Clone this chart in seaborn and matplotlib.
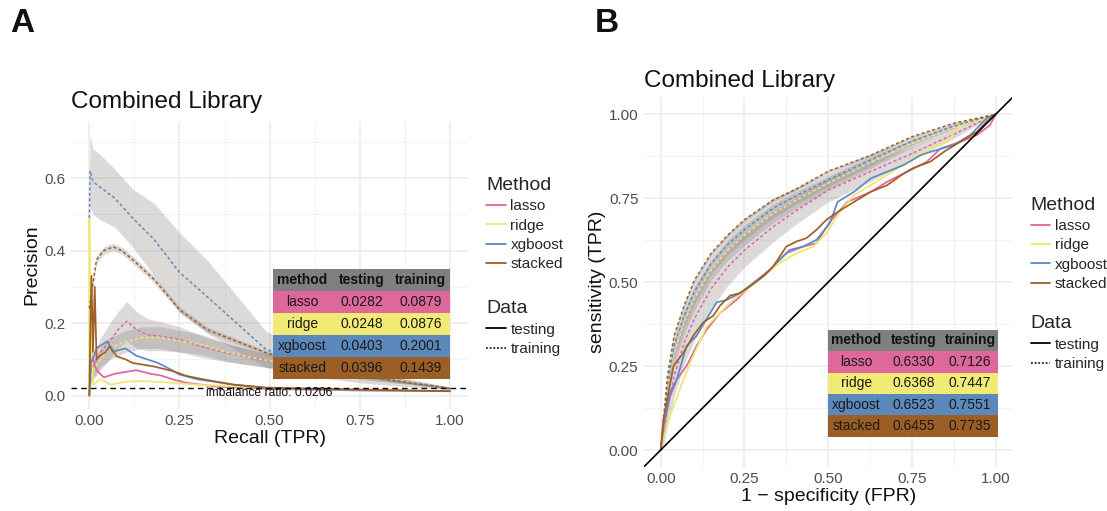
import matplotlib
matplotlib.use("Agg")
import matplotlib.pyplot as plt
from matplotlib.lines import Line2D
import seaborn as sns
import pandas as pd

# ---- data ----
methods = ["lasso", "ridge", "xgboost", "stacked"]
line_colors = ["#E3629E", "#EFE76E", "#5B8BC2", "#9E6028"]
cell_colors = ["#DE679C", "#F1EB76", "#5B89BB", "#9B5F26"]

# precision-recall, training (mean curve + sd band)
pr_train_x = {
    "lasso": [0.0, 0.007, 0.03, 0.057, 0.08, 0.104, 0.13, 0.16, 0.196, 0.25, 0.307, 0.38, 0.473, 0.6, 0.75, 0.9, 1.0],
    "ridge": [0.0, 0.007, 0.03, 0.057, 0.104, 0.15, 0.196, 0.25, 0.307, 0.38, 0.473, 0.6, 0.75, 0.9, 1.0],
    "xgboost": [0.0, 0.002, 0.01, 0.03, 0.07, 0.12, 0.18, 0.25, 0.33, 0.49, 0.6, 0.75, 0.9, 1.0],
    "stacked": [0.0, 0.007, 0.02, 0.04, 0.066, 0.09, 0.12, 0.18, 0.25, 0.326, 0.49, 0.6, 0.75, 0.9, 1.0],
}
pr_train_y = {
    "lasso": [0.05, 0.072, 0.118, 0.15, 0.182, 0.205, 0.182, 0.168, 0.164, 0.155, 0.136, 0.118, 0.10, 0.08, 0.055, 0.035, 0.02],
    "ridge": [0.04, 0.063, 0.10, 0.13, 0.15, 0.16, 0.16, 0.15, 0.142, 0.12, 0.10, 0.083, 0.057, 0.035, 0.02],
    "xgboost": [0.49, 0.62, 0.59, 0.575, 0.545, 0.49, 0.43, 0.34, 0.27, 0.127, 0.09, 0.055, 0.033, 0.02],
    "stacked": [0.24, 0.29, 0.375, 0.40, 0.41, 0.40, 0.375, 0.32, 0.237, 0.182, 0.118, 0.09, 0.055, 0.033, 0.02],
}
pr_train_sd = {
    "lasso": [0.02, 0.03, 0.04, 0.05, 0.05, 0.055, 0.05, 0.045, 0.04, 0.035, 0.03, 0.025, 0.02, 0.015, 0.01, 0.005, 0.003],
    "ridge": [0.02, 0.025, 0.03, 0.03, 0.03, 0.03, 0.03, 0.03, 0.028, 0.025, 0.02, 0.015, 0.01, 0.005, 0.003],
    "xgboost": [0.1, 0.1, 0.09, 0.09, 0.08, 0.08, 0.1, 0.11, 0.1, 0.05, 0.035, 0.02, 0.01, 0.003],
    "stacked": [0.01, 0.01, 0.01, 0.01, 0.01, 0.01, 0.01, 0.01, 0.008, 0.008, 0.006, 0.005, 0.004, 0.003, 0.002],
}
# precision-recall, testing
pr_test_x = {
    "lasso": [0, 0.005, 0.02, 0.04, 0.07, 0.1, 0.13, 0.17, 0.2, 0.23, 0.27, 0.35, 0.5, 0.75, 1.0],
    "ridge": [0, 0.0, 0.004, 0.01, 0.03, 0.06, 0.1, 0.15, 0.2, 0.3, 0.4, 0.5, 0.75, 1.0],
    "xgboost": [0, 0.005, 0.02, 0.035, 0.05, 0.065, 0.08, 0.1, 0.13, 0.16, 0.19, 0.22, 0.25, 0.3, 0.4, 0.5, 0.75, 1.0],
    "stacked": [0, 0.003, 0.006, 0.01, 0.015, 0.02, 0.03, 0.045, 0.057, 0.076, 0.1, 0.12, 0.18, 0.233, 0.27, 0.32, 0.4, 0.49, 0.67, 1.0],
}
pr_test_y = {
    "lasso": [0, 0.12, 0.07, 0.05, 0.06, 0.065, 0.07, 0.06, 0.055, 0.045, 0.035, 0.025, 0.018, 0.014, 0.012],
    "ridge": [0, 0.49, 0.2, 0.03, 0.045, 0.03, 0.038, 0.04, 0.037, 0.03, 0.025, 0.02, 0.015, 0.012],
    "xgboost": [0, 0.09, 0.13, 0.14, 0.15, 0.12, 0.125, 0.13, 0.11, 0.1, 0.09, 0.075, 0.058, 0.045, 0.03, 0.02, 0.015, 0.012],
    "stacked": [0, 0.2, 0.33, 0.12, 0.3, 0.1, 0.11, 0.12, 0.136, 0.108, 0.1, 0.09, 0.08, 0.067, 0.054, 0.044, 0.03, 0.022, 0.018, 0.012],
}
imbalance_ratio = 0.0206

# ROC, training (shared FPR grid)
roc_train_fpr = [0, 0.01, 0.02, 0.04, 0.07, 0.1, 0.15, 0.2, 0.25, 0.336, 0.4, 0.5, 0.627, 0.75, 0.874, 1.0]
roc_train_tpr = {
    "lasso": [0, 0.05, 0.12, 0.22, 0.32, 0.39, 0.48, 0.545, 0.595, 0.665, 0.71, 0.774, 0.83, 0.883, 0.94, 1.0],
    "ridge": [0, 0.07, 0.17, 0.29, 0.38, 0.45, 0.535, 0.595, 0.64, 0.705, 0.742, 0.795, 0.857, 0.913, 0.96, 1.0],
    "xgboost": [0, 0.085, 0.19, 0.31, 0.40, 0.47, 0.555, 0.612, 0.656, 0.72, 0.755, 0.805, 0.864, 0.92, 0.965, 1.0],
    "stacked": [0, 0.11, 0.22, 0.34, 0.43, 0.505, 0.585, 0.64, 0.686, 0.745, 0.775, 0.83, 0.878, 0.933, 0.973, 1.0],
}
roc_train_sd = {
    "lasso": [0, 0.03, 0.05, 0.06, 0.065, 0.065, 0.06, 0.055, 0.05, 0.045, 0.04, 0.035, 0.03, 0.02, 0.012, 0],
    "ridge": [0, 0.02, 0.03, 0.035, 0.035, 0.035, 0.03, 0.03, 0.03, 0.028, 0.025, 0.02, 0.018, 0.012, 0.008, 0],
    "xgboost": [0, 0.02, 0.03, 0.035, 0.035, 0.035, 0.03, 0.03, 0.03, 0.028, 0.025, 0.02, 0.018, 0.012, 0.008, 0],
    "stacked": [0, 0.005, 0.005, 0.005, 0.005, 0.005, 0.005, 0.005, 0.005, 0.005, 0.004, 0.004, 0.003, 0.003, 0.002, 0],
}
# ROC, testing
roc_test_fpr = {
    "lasso": [0, 0.013, 0.028, 0.048, 0.077, 0.107, 0.137, 0.177, 0.226, 0.276, 0.326, 0.375, 0.425, 0.465, 0.505, 0.557, 0.627, 0.676, 0.726, 0.795, 0.835, 0.894, 0.944, 0.983, 1.0],
    "ridge": [0, 0.018, 0.038, 0.068, 0.097, 0.137, 0.177, 0.216, 0.256, 0.306, 0.355, 0.405, 0.455, 0.495, 0.535, 0.577, 0.627, 0.676, 0.752, 0.805, 0.855, 0.884, 0.924, 0.973, 1.0],
    "xgboost": [0, 0.008, 0.028, 0.048, 0.077, 0.107, 0.137, 0.167, 0.197, 0.236, 0.276, 0.316, 0.355, 0.385, 0.425, 0.465, 0.505, 0.528, 0.577, 0.627, 0.676, 0.726, 0.775, 0.805, 0.874, 0.924, 0.973, 1.0],
    "stacked": [0, 0.008, 0.023, 0.038, 0.068, 0.097, 0.127, 0.157, 0.177, 0.207, 0.236, 0.266, 0.306, 0.336, 0.375, 0.405, 0.435, 0.465, 0.495, 0.528, 0.577, 0.627, 0.676, 0.726, 0.752, 0.805, 0.845, 0.894, 0.944, 0.973, 1.0],
}
roc_test_tpr = {
    "lasso": [0, 0.09, 0.16, 0.21, 0.25, 0.31, 0.358, 0.408, 0.447, 0.497, 0.537, 0.586, 0.606, 0.616, 0.68, 0.739, 0.769, 0.799, 0.824, 0.859, 0.898, 0.918, 0.938, 0.968, 1.0],
    "ridge": [0, 0.07, 0.13, 0.21, 0.28, 0.368, 0.408, 0.447, 0.477, 0.517, 0.557, 0.586, 0.606, 0.646, 0.71, 0.759, 0.789, 0.819, 0.869, 0.898, 0.918, 0.958, 0.978, 0.988, 1.0],
    "xgboost": [0, 0.07, 0.17, 0.21, 0.31, 0.34, 0.39, 0.44, 0.447, 0.467, 0.497, 0.527, 0.567, 0.596, 0.606, 0.626, 0.676, 0.739, 0.769, 0.809, 0.829, 0.849, 0.878, 0.888, 0.908, 0.938, 0.988, 1.0],
    "stacked": [0, 0.09, 0.17, 0.25, 0.29, 0.34, 0.38, 0.40, 0.43, 0.46, 0.467, 0.487, 0.517, 0.547, 0.606, 0.621, 0.631, 0.656, 0.686, 0.709, 0.739, 0.769, 0.789, 0.824, 0.839, 0.859, 0.888, 0.918, 0.948, 0.978, 1.0],
}

# AUC tables
pr_auc_testing = ["0.0282", "0.0248", "0.0403", "0.0396"]
pr_auc_training = ["0.0879", "0.0876", "0.2001", "0.1439"]
roc_auc_testing = ["0.6330", "0.6368", "0.6523", "0.6455"]
roc_auc_training = ["0.7126", "0.7447", "0.7551", "0.7735"]


def long_table(xs, ys, kind):
    frames = []
    for m in methods:
        x = xs[m] if isinstance(xs, dict) else xs
        frames.append(pd.DataFrame({"x": x, "y": ys[m], "method": m, "data": kind}))
    return pd.concat(frames, ignore_index=True)


sns.set_theme(style="whitegrid", rc={"grid.color": "#EBEBEB", "axes.edgecolor": "white"})
plt.rcParams["font.family"] = ["Liberation Sans", "DejaVu Sans"]

palette = dict(zip(methods, line_colors))
dash_map = {"testing": "", "training": (2, 1.6)}
size_map = {"testing": 1.25, "training": 1.1}
band_color = "#8C8383"

fig = plt.figure(figsize=(11.07, 5.11), dpi=100)
axA = fig.add_axes([0.0644, 0.2004, 0.3584, 0.5618])
axB = fig.add_axes([0.5817, 0.0865, 0.3329, 0.7227])


def style_axes(ax, xt, xtl, yt, ytl, xminor, yminor):
    ax.set_xticks(xt)
    ax.set_xticklabels(xtl)
    ax.set_yticks(yt)
    ax.set_yticklabels(ytl)
    ax.set_xticks(xminor, minor=True)
    ax.set_yticks(yminor, minor=True)
    ax.grid(which="major", color="#EBEBEB", lw=1.1)
    ax.grid(which="minor", color="#F2F2F2", lw=0.7)
    ax.tick_params(which="both", length=0, labelsize=11, labelcolor="#4D4D4D", pad=4)
    for s in ax.spines.values():
        s.set_visible(False)
    ax.set_axisbelow(True)


def add_table(ax, testing, training, bbox):
    rows = [[m, t, r] for m, t, r in zip(methods, testing, training)]
    tb = ax.table(cellText=rows, colLabels=["method", "testing", "training"],
                  cellLoc="center", bbox=bbox, zorder=5)
    tb.auto_set_font_size(False)
    for (r, c), cell in tb.get_celld().items():
        cell.set_linewidth(0)
        cell.get_text().set_fontsize(10)
        if r == 0:
            cell.set_facecolor("#7F7F7F")
            cell.get_text().set_fontweight("bold")
            cell.get_text().set_color("#111111")
        else:
            cell.set_facecolor(cell_colors[r - 1])
            cell.get_text().set_color("#1A1A1A")


# ---- panel A: precision-recall ----
for m in methods:
    y = pd.Series(pr_train_y[m])
    sd = pd.Series(pr_train_sd[m])
    axA.fill_between(pr_train_x[m], (y - sd).clip(lower=0), y + sd,
                     color=band_color, alpha=0.3, lw=0)
pr_df = pd.concat([long_table(pr_test_x, pr_test_y, "testing"),
                   long_table(pr_train_x, pr_train_y, "training")], ignore_index=True)
sns.lineplot(data=pr_df, x="x", y="y", hue="method", style="data", size="data",
             palette=palette, dashes=dash_map, sizes=size_map, sort=False,
             estimator=None, legend=False, ax=axA)
axA.axhline(imbalance_ratio, color="black", lw=1.0, dashes=(4, 3))
axA.text(0.5, imbalance_ratio + 0.004, f"imbalance ratio: {imbalance_ratio}",
         ha="center", va="top", fontsize=8.7, color="#111111")
axA.set_xlim(-0.05, 1.05)
axA.set_ylim(-0.036, 0.756)
style_axes(axA, [0, 0.25, 0.5, 0.75, 1.0], ["0.00", "0.25", "0.50", "0.75", "1.00"],
           [0, 0.2, 0.4, 0.6], ["0.0", "0.2", "0.4", "0.6"],
           [0.125, 0.375, 0.625, 0.875], [0.1, 0.3, 0.5, 0.7])
axA.set_xlabel("Recall (TPR)", fontsize=14, labelpad=1, color="#111111")
axA.set_ylabel("Precision", fontsize=14, labelpad=3, color="#111111")
axA.set_title("Combined Library", loc="left", fontsize=17.5, pad=9.5, color="#111111")
add_table(axA, pr_auc_testing, pr_auc_training, [0.508, 0.104, 0.447, 0.384])

# ---- panel B: ROC ----
for m in methods:
    y = pd.Series(roc_train_tpr[m])
    sd = pd.Series(roc_train_sd[m])
    axB.fill_between(roc_train_fpr, (y - sd).clip(lower=0), (y + sd).clip(upper=1),
                     color=band_color, alpha=0.3, lw=0)
roc_df = pd.concat([long_table(roc_test_fpr, roc_test_tpr, "testing"),
                    long_table(roc_train_fpr, roc_train_tpr, "training")], ignore_index=True)
sns.lineplot(data=roc_df, x="x", y="y", hue="method", style="data", size="data",
             palette=palette, dashes=dash_map, sizes=size_map, sort=False,
             estimator=None, legend=False, ax=axB)
axB.axline((0, 0), slope=1, color="black", lw=1.2)
axB.set_xlim(-0.05, 1.05)
axB.set_ylim(-0.05, 1.05)
ticks = [0, 0.25, 0.5, 0.75, 1.0]
labels = ["0.00", "0.25", "0.50", "0.75", "1.00"]
style_axes(axB, ticks, labels, ticks, labels,
           [0.125, 0.375, 0.625, 0.875], [0.125, 0.375, 0.625, 0.875])
axB.set_xlabel("1 \u2212 specificity (FPR)", fontsize=14, labelpad=1, color="#111111")
axB.set_ylabel("sensitivity (TPR)", fontsize=14, labelpad=2, color="#111111")
axB.set_title("Combined Library", loc="left", fontsize=17.5, pad=7.5, color="#111111")
add_table(axB, roc_auc_testing, roc_auc_training, [0.5, 0.081, 0.462, 0.29])

# ---- legends ----
method_handles = [Line2D([], [], color=c, lw=1.3) for c in line_colors]
data_handles = [Line2D([], [], color="black", lw=1.3),
                Line2D([], [], color="black", lw=1.1, dashes=(1.2, 1.2))]
leg_kw = dict(loc="upper left", frameon=False, fontsize=11, title_fontsize=14,
              handlelength=1.3, handletextpad=0.3, labelspacing=0.35,
              borderpad=0, borderaxespad=0, alignment="left")
for x0, y_method, y_data in [(0.439, 0.654, 0.412), (0.931, 0.615, 0.383)]:
    fig.legend(method_handles, methods, title="Method", bbox_to_anchor=(x0, y_method), **leg_kw)
    fig.legend(data_handles, ["testing", "training"], title="Data", bbox_to_anchor=(x0, y_data), **leg_kw)

fig.text(0.009, 0.985, "A", fontsize=24, fontweight="bold", va="top", color="#111111")
fig.text(0.537, 0.985, "B", fontsize=24, fontweight="bold", va="top", color="#111111")

fig.savefig("out.png", dpi=100)
